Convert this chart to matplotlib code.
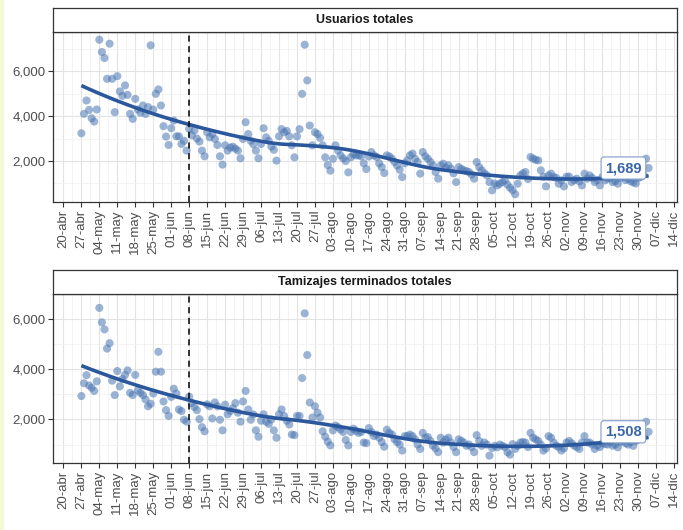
import datetime as dt

import matplotlib
matplotlib.use("Agg")
import matplotlib.pyplot as plt
import matplotlib.dates as mdates
from matplotlib.patches import Rectangle
import numpy as np

plt.rcParams['font.family'] = ['Liberation Sans', 'DejaVu Sans']

# daily values from 27-abr-2020 to 04-dic-2020, one row per week (Mon..Sun)
usuarios = [
    3236, 4100, 4695, 4277, 3906, 3758, 4294,
    7400, 6852, 6584, 5660, 7223, 5660, 4174,
    5780, 5098, 4900, 5366, 4946, 4100, 3875,
    4767, 4300, 4150, 4473, 4100, 4400, 7151,
    4290, 4991, 5187, 4473, 3550, 3089, 2714,
    3460, 3800, 3100, 3100, 2760, 2900, 2464,
    3428, 3150, 3357, 3000, 2866, 2464, 2210,
    3281, 3058, 3200, 2982, 2714, 2210, 1839,
    2700, 2464, 2600, 2640, 2550, 2464, 2120,
    2980, 3727, 3200, 2900, 2750, 2464, 2120,
    2760, 3460, 3058, 2900, 2640, 2500, 2017,
    3100, 3420, 3280, 3340, 3100, 2700, 2165,
    3100, 3420, 4991, 7178, 5589, 3580, 2700,
    3280, 3200, 3030, 2700, 2165, 1822, 1571,
    2100, 2700, 2464, 2250, 2120, 2000, 1496,
    2165, 2300, 2250, 2254, 2210, 1900, 1643,
    2200, 2400, 2250, 2180, 1900, 1730, 1465,
    2254, 2200, 2107, 1956, 1800, 1616, 1286,
    1900, 2030, 2254, 2330, 2100, 1956, 1438,
    2400, 2210, 2100, 1956, 1800, 1510, 1214,
    1808, 1880, 1700, 1808, 1660, 1450, 1063,
    1730, 1650, 1585, 1550, 1510, 1400, 1214,
    1956, 1730, 1585, 1450, 1360, 1063, 692,
    1000, 915, 990, 1063, 1138, 950, 811,
    700, 520, 990, 1360, 1450, 1510, 1200,
    2180, 2107, 2050, 2030, 1585, 1300, 871,
    1360, 1436, 1286, 1250, 990, 1138, 871,
    1300, 1310, 1063, 1150, 1214, 1100, 915,
    1436, 1214, 1360, 1250, 1063, 1150, 915,
    1300, 1138, 1214, 1250, 1063, 1100, 990,
    1250, 1300, 1150, 1200, 1100, 1050, 1000,
    1250, 1300, 1400, 2107, 1689,
]

tamizajes = [
    2933, 3444, 3764, 3355, 3265, 3138, 3521,
    6446, 5871, 5590, 4824, 5041, 3546, 2972,
    3930, 3317, 3610, 3776, 3955, 3061, 2972,
    3776, 3163, 3061, 2972, 2800, 2525, 2627,
    3036, 3904, 4696, 3904, 2717, 2372, 2142,
    2900, 3227, 3036, 2398, 2334, 1989, 1912,
    2908, 2653, 2500, 2372, 2014, 1695, 1529,
    2600, 2525, 2040, 2678, 2525, 1989, 1567,
    2589, 2206, 2334, 2450, 2653, 2270, 1912,
    2717, 3138, 2398, 1989, 2200, 1567, 1312,
    1950, 2206, 1912, 1823, 2000, 1567, 1273,
    2206, 2398, 2142, 1950, 1800, 1401, 1375,
    2142, 2142, 3649, 6228, 4568, 2678, 2078,
    2525, 2270, 2078, 1529, 1312, 1120, 967,
    1567, 1759, 1695, 1600, 1503, 1184, 967,
    1500, 1631, 1550, 1465, 1503, 1081, 1056,
    1656, 1500, 1337, 1400, 1273, 1100, 915,
    1592, 1465, 1400, 1209, 1100, 1000, 762,
    1337, 1337, 1400, 1337, 1209, 1000, 826,
    1465, 1273, 1300, 1145, 954, 850, 698,
    1273, 1081, 1200, 1273, 1081, 900, 698,
    1209, 1150, 1081, 954, 1000, 900, 698,
    1375, 1145, 954, 1081, 1000, 560, 864,
    950, 890, 1000, 954, 900, 698, 600,
    1018, 826, 950, 1081, 1100, 1081, 900,
    1465, 1273, 1209, 1145, 1000, 762, 850,
    1337, 1273, 1081, 954, 900, 762, 850,
    1081, 1145, 1050, 954, 900, 826, 1081,
    1337, 1081, 1081, 1000, 826, 954, 900,
    1050, 1018, 1000, 1100, 954, 1000, 890,
    1100, 1150, 1050, 1000, 1100, 950, 1145,
    1200, 1250, 1300, 1912, 1508,
]

titles = ["Usuarios totales", "Tamizajes terminados totales"]
meses = ["ene", "feb", "mar", "abr", "may", "jun", "jul", "ago", "sep", "oct", "nov", "dic"]

start = dt.date(2020, 4, 27)
corte = dt.date(2020, 6, 8)
tick_dates = [dt.date(2020, 4, 20) + dt.timedelta(weeks=i) for i in range(35)]


def loess(x, y, xs, span=0.75):
    # local quadratic fit with tricube weights (like geom_smooth default)
    n = len(x)
    q = int(np.floor(n * span))
    fit = []
    for x0 in xs:
        d = np.abs(x - x0)
        h = np.sort(d)[q - 1]
        w = np.clip(1 - (d / h) ** 3, 0, None) ** 3
        A = np.vstack([np.ones_like(x), x - x0, (x - x0) ** 2]).T
        sw = np.sqrt(w)
        beta = np.linalg.lstsq(A * sw[:, None], y * sw, rcond=None)[0]
        fit.append(beta[0])
    return np.array(fit)


fig = plt.figure(figsize=(6.83, 5.30), dpi=100)
fig.patches.append(Rectangle((0, 0), 3 / 683, 1, transform=fig.transFigure,
                             color='#f4f8d6', zorder=-1))

W, H = 683, 530
left, right = 53 / W, 677 / W
boxes = [(32, 202, 8), (294, 463, 270)]
tick_col = '#4d4d4d'

for series, title, (top, bot, stop) in zip([usuarios, tamizajes], titles, boxes):
    vals = np.array(series, dtype=float)
    dates = [start + dt.timedelta(days=i) for i in range(len(vals))]
    xnum = mdates.date2num(dates)

    ax = fig.add_axes([left, 1 - bot / H, right - left, (bot - top) / H])
    sax = fig.add_axes([left, 1 - top / H, right - left, (top - stop) / H])

    ax.scatter(xnum, vals, s=34, color='#4a76b2', alpha=0.55, edgecolors='none', zorder=3)

    xs = np.linspace(xnum[0], xnum[-1], 80)
    ax.plot(xs, loess(xnum, vals, xs), color='#2b579c', lw=2.6, zorder=4,
            solid_capstyle='butt')

    ax.axvline(mdates.date2num(corte), color='black', ls=(0, (4, 3)), lw=1.1, zorder=5)

    ax.annotate(f"{int(vals[-1]):,}", xy=(xnum[-1], vals[-1]), xytext=(-5, 0),
                textcoords='offset points', ha='right', va='center',
                fontsize=10.5, fontweight='bold', color='#3b66a6', zorder=6,
                bbox=dict(boxstyle='round,pad=0.28,rounding_size=0.2',
                          fc='white', ec='#7f9cc6', lw=0.8))

    xr = xnum[-1] - xnum[0]
    ax.set_xlim(xnum[0] - 0.05 * xr, xnum[-1] + 0.05 * xr)
    yr = vals.max() - vals.min()
    ax.set_ylim(vals.min() - 0.05 * yr, vals.max() + 0.05 * yr)

    tnum = mdates.date2num(tick_dates)
    ax.set_xticks(tnum)
    ax.set_xticklabels([f"{d.day:02d}-{meses[d.month - 1]}" for d in tick_dates],
                       rotation=90, fontsize=9.5, color=tick_col)
    ax.set_xticks((tnum[:-1] + tnum[1:]) / 2, minor=True)
    ax.set_yticks([2000, 4000, 6000])
    ax.set_yticklabels(["2,000", "4,000", "6,000"], fontsize=9.5, color=tick_col)
    ax.set_yticks([1000, 3000, 5000, 7000], minor=True)

    ax.grid(True, which='major', color='#e3e3e3', lw=0.8, zorder=0)
    ax.grid(True, which='minor', color='#efefef', lw=0.5, zorder=0)
    ax.set_axisbelow(True)
    ax.tick_params(which='major', length=3.5, width=0.8, color='#333333', pad=2)
    ax.tick_params(which='minor', length=0)
    for sp in ax.spines.values():
        sp.set_color('#333333')
        sp.set_linewidth(0.9)

    sax.set_xticks([])
    sax.set_yticks([])
    sax.set_facecolor('white')
    for sp in sax.spines.values():
        sp.set_color('#333333')
        sp.set_linewidth(0.9)
    sax.text(0.5, 0.5, title, ha='center', va='center', fontsize=9,
             fontweight='bold', color='#1a1a1a', transform=sax.transAxes)

fig.savefig("out.png", dpi=100)
